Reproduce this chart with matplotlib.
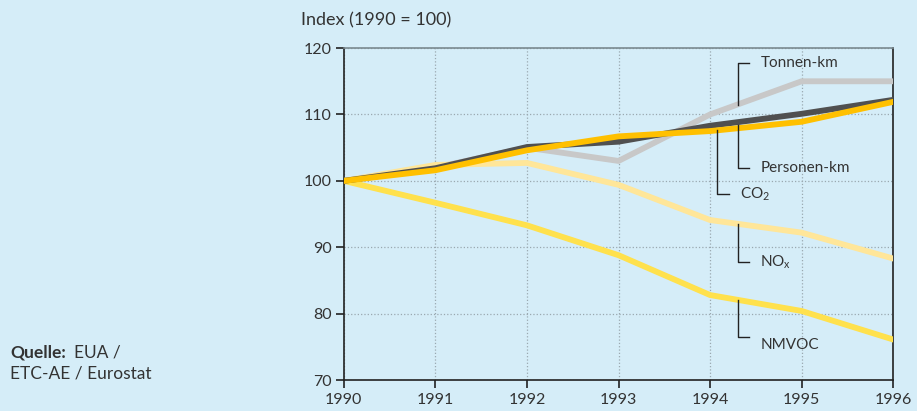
import matplotlib
matplotlib.use('Agg')
import matplotlib.pyplot as plt

plt.rcParams['font.family'] = ['Lato', 'DejaVu Sans']
plt.rcParams['mathtext.fontset'] = 'custom'
plt.rcParams['mathtext.rm'] = 'Lato'
plt.rcParams['mathtext.it'] = 'Lato:italic'

years = [1990, 1991, 1992, 1993, 1994, 1995, 1996]
tonnen_km = [100, 102, 105, 103, 110, 115, 115]
personen_km = [100, 101.9, 105.1, 105.9, 108.3, 110.1, 112.2]
co2 = [100, 101.6, 104.6, 106.7, 107.5, 108.9, 111.9]
nox = [100, 102.4, 102.7, 99.4, 94.1, 92.2, 88.3]
nmvoc = [100, 96.7, 93.3, 88.8, 82.8, 80.4, 76.1]

# label: (text, x of leader, top of leader, bottom of leader, text y)
labels = [
    ('Tonnen-km', 1994.3, 111.4, 117.7, 117.7),
    ('Personen-km', 1994.3, 108.4, 102.0, 102.0),
    ('CO$_2$', 1994.08, 107.6, 98.0, 98.0),
    ('NO$_\\mathrm{x}$', 1994.3, 93.5, 87.8, 87.8),
    ('NMVOC', 1994.3, 82.0, 76.5, 75.3),
]

bg = '#d5edf8'
txt = '#333333'

fig = plt.figure(figsize=(9.17, 4.11), dpi=100, facecolor=bg)
ax = fig.add_axes([0.375, 0.0754, 0.599, 0.8076])
ax.set_facecolor(bg)

lw = 4.2
ax.plot(years, tonnen_km, color='#c8c8c8', lw=lw, zorder=3)
ax.plot(years, nox, color='#ffe699', lw=lw, zorder=3)
ax.plot(years, nmvoc, color='#ffe14d', lw=lw, zorder=3)
ax.plot(years, personen_km, color='#505050', lw=lw, zorder=4)
ax.plot(years, co2, color='#ffc000', lw=lw, zorder=5)

for text, x, y0, y1, ty in labels:
    ax.plot([x, x, x + 0.13], [y0, y1, y1], color='#222222', lw=1.0, zorder=6)
    ax.text(x + 0.25, ty, text, fontsize=11, color=txt, va='center', ha='left', zorder=6)

ax.set_xlim(1990, 1996)
ax.set_ylim(70, 120)
ax.set_xticks(years)
ax.set_yticks([70, 80, 90, 100, 110, 120])
ax.grid(True, color='#9aa8b0', linestyle=':', lw=0.9, zorder=1)
ax.tick_params(direction='out', length=6, width=1.2, color='#222222',
               labelsize=11.5, labelcolor=txt, pad=3)
for s in ['left', 'bottom', 'right']:
    ax.spines[s].set_color('#222222')
    ax.spines[s].set_linewidth(1.2)
ax.spines['top'].set_color('#7a8a90')
ax.spines['top'].set_linewidth(1.2)

fig.text(301 / 917, 1 - 20 / 411, 'Index (1990 = 100)', fontsize=13, color=txt,
         ha='left', va='center')
fig.text(10 / 917, 1 - 352 / 411, 'Quelle:', fontsize=12.5, color=txt, fontweight='bold',
         ha='left', va='center')
fig.text(74 / 917, 1 - 352 / 411, 'EUA /', fontsize=12.5, color=txt, ha='left', va='center')
fig.text(10 / 917, 1 - 373 / 411, 'ETC-AE / Eurostat', fontsize=12.5, color=txt,
         ha='left', va='center')

fig.savefig('out.png', dpi=100, facecolor=bg)
